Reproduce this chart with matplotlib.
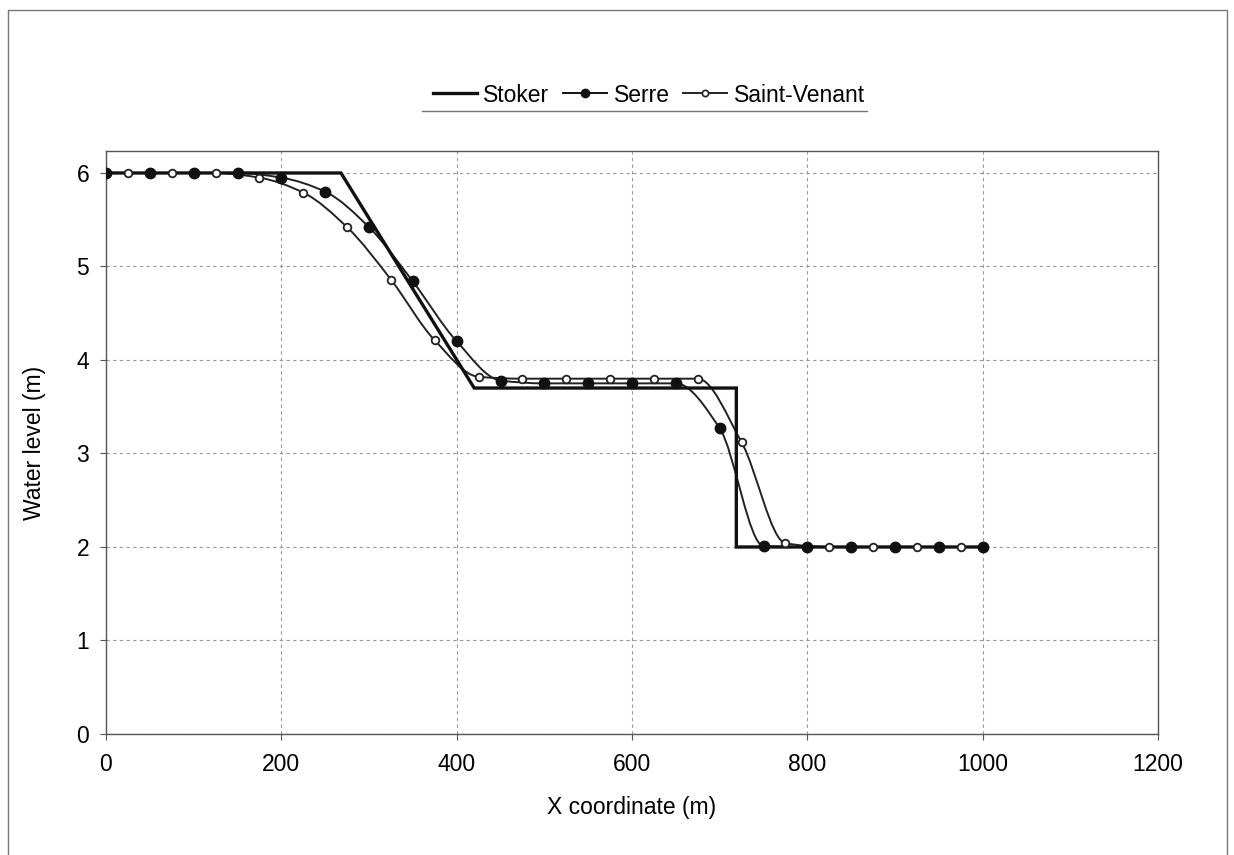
import numpy as np
import matplotlib
matplotlib.use("Agg")
import matplotlib.pyplot as plt
from matplotlib.path import Path
from matplotlib.patches import PathPatch, Rectangle
from matplotlib.lines import Line2D

plt.rcParams['font.family'] = ['Liberation Sans', 'DejaVu Sans']

# Datos
stoker_x = [0, 268, 420, 719, 719, 1000]
stoker_y = [6.0, 6.0, 3.70, 3.70, 2.0, 2.0]

serre_x = [0, 50, 100, 150, 200, 250, 300, 350, 400, 450, 500, 550, 600, 650,
           700, 750, 800, 850, 900, 950, 1000]
serre_y = [6.0, 6.0, 6.0, 6.0, 5.95, 5.80, 5.42, 4.84, 4.20, 3.78, 3.75, 3.75,
           3.75, 3.75, 3.27, 2.01, 2.0, 2.0, 2.0, 2.0, 2.0]

sv_x = [25, 75, 125, 175, 225, 275, 325, 375, 425, 475, 525, 575, 625, 675,
        725, 775, 825, 875, 925, 975]
sv_y = [6.0, 6.0, 6.0, 5.95, 5.79, 5.42, 4.86, 4.21, 3.82, 3.80, 3.80, 3.80,
        3.80, 3.80, 3.12, 2.04, 2.0, 2.0, 2.0, 2.0]

x_ticks = [0, 200, 400, 600, 800, 1000, 1200]
y_ticks = [0, 1, 2, 3, 4, 5, 6]


def smooth_path(xs, ys):
    # curva suavizada sin sobreoscilación (Hermite monótona -> Bezier)
    x = np.asarray(xs, float)
    y = np.asarray(ys, float)
    h = np.diff(x)
    d = np.diff(y) / h
    m = np.zeros_like(y)
    m[0], m[-1] = d[0], d[-1]
    for i in range(1, len(x) - 1):
        if d[i - 1] * d[i] <= 0:
            m[i] = 0.0
        else:
            w1 = 2 * h[i] + h[i - 1]
            w2 = h[i] + 2 * h[i - 1]
            m[i] = (w1 + w2) / (w1 / d[i - 1] + w2 / d[i])
    verts = [(x[0], y[0])]
    codes = [Path.MOVETO]
    for i in range(len(x) - 1):
        dx = h[i] / 3.0
        verts += [(x[i] + dx, y[i] + m[i] * dx),
                  (x[i + 1] - dx, y[i + 1] - m[i + 1] * dx),
                  (x[i + 1], y[i + 1])]
        codes += [Path.CURVE4] * 3
    return Path(verts, codes)


fig = plt.figure(figsize=(12.34, 8.55), dpi=100)
ax = fig.add_axes([106 / 1234, 1 - 734 / 855, (1158 - 106) / 1234, (734 - 151) / 855])

# rejilla
ax.set_xlim(0, 1200)
ax.set_ylim(0, 6.235)
ax.set_xticks(x_ticks)
ax.set_yticks(y_ticks)
ax.grid(True, color="#999999", linestyle=(0, (3, 3)), linewidth=0.8)
ax.set_axisbelow(True)
for s in ax.spines.values():
    s.set_color("#555555")
    s.set_linewidth(1.0)
ax.tick_params(axis="both", labelsize=16.5, direction="out", length=4, color="#555555")
ax.tick_params(axis="x", pad=10)
ax.tick_params(axis="y", pad=8)

# Stoker
ax.plot(stoker_x, stoker_y, color="#111111", linewidth=2.4, solid_joinstyle="miter", zorder=4)

# Serre
ax.add_patch(PathPatch(smooth_path(serre_x, serre_y), fill=False, edgecolor="#222222",
                       linewidth=1.4, zorder=3))
ax.plot(serre_x, serre_y, linestyle="none", marker="o", markersize=7.5,
        color="#111111", zorder=5)

# Saint-Venant
ax.add_patch(PathPatch(smooth_path(sv_x, sv_y), fill=False, edgecolor="#222222",
                       linewidth=1.4, zorder=3))
ax.plot(sv_x, sv_y, linestyle="none", marker="o", markersize=5.5,
        markerfacecolor="white", markeredgecolor="#222222", markeredgewidth=1.3, zorder=5)

ax.set_xlabel("X coordinate (m)", fontsize=16.5, labelpad=14)
ax.set_ylabel("Water level (m)", fontsize=16.5, labelpad=22)

# leyenda
handles = [
    Line2D([], [], color="#111111", linewidth=2.4),
    Line2D([], [], color="#111111", linewidth=1.4, marker="o", markersize=6),
    Line2D([], [], color="#222222", linewidth=1.4, marker="o", markersize=4.5,
           markerfacecolor="white", markeredgewidth=1.2),
]
fig.legend(handles, ["Stoker", "Serre", "Saint-Venant"], loc="center",
           bbox_to_anchor=(649 / 1234, 1 - 95 / 855), ncol=3, frameon=False,
           fontsize=16.5, handlelength=1.9, handletextpad=0.3, columnspacing=0.6)
fig.add_artist(Line2D([422 / 1234, 867 / 1234], [1 - 111 / 855, 1 - 111 / 855],
                      transform=fig.transFigure, color="#777777", linewidth=1.0))

# marco exterior
fig.add_artist(Rectangle((8 / 1234, -0.02), (1227 - 8) / 1234, 1 - 10 / 855 + 0.02,
                         transform=fig.transFigure, fill=False,
                         edgecolor="#777777", linewidth=1.0))

fig.savefig("out.png", dpi=100, facecolor="white")
